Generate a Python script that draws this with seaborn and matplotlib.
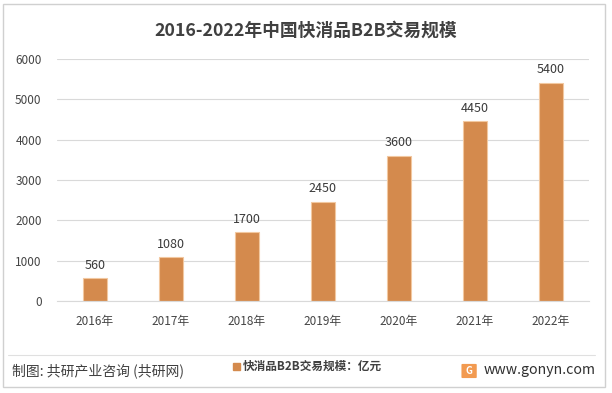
import matplotlib
matplotlib.use("Agg")
import matplotlib.pyplot as plt
import matplotlib.patches as mpatches
import seaborn as sns
import pandas as pd

years = ["2016年", "2017年", "2018年", "2019年", "2020年", "2021年", "2022年"]
scale = [560, 1080, 1700, 2450, 3600, 4450, 5400]
series_name = "快消品B2B交易规模：亿元"

df = pd.DataFrame({"year": years, "scale": scale})

sns.set_style("white")
plt.rcParams["font.family"] = ["Noto Sans CJK SC", "DejaVu Sans"]

bar_color = "#D48A4D"

fig = plt.figure(figsize=(6.12, 3.93), dpi=100)
ax = fig.add_axes([0.093, 0.234, 0.869, 0.616])

sns.barplot(data=df, x="year", y="scale", color=bar_color, width=0.32,
            edgecolor="#F2C8A0", linewidth=0.8, saturation=1, ax=ax)

# data labels
for i, v in enumerate(scale):
    ax.text(i, v + 170, str(v), ha="center", va="bottom", fontsize=9,
            color="#3A3A3A")

ax.set_ylim(0, 6000)
ax.set_xlim(-0.5, 6.5)
ax.set_yticks(range(0, 6001, 1000))
ax.yaxis.grid(True, color="#D9D9D9", linewidth=0.8)
ax.set_axisbelow(True)
for s in ["top", "right", "left"]:
    ax.spines[s].set_visible(False)
ax.spines["bottom"].set_color("#D9D9D9")
ax.tick_params(axis="x", length=0, labelsize=8.5, colors="#454545", pad=10)
ax.tick_params(axis="y", length=0, labelsize=8.5, colors="#454545", pad=11)
ax.set_xlabel("")
ax.set_ylabel("")

fig.text(0.5, 0.921, "2016-2022年中国快消品B2B交易规模", ha="center", va="center",
         fontsize=12.8, fontweight="bold", color="#404040")

# outer frame and footer separator
fig.patches.append(mpatches.Rectangle((0.005, 0.015), 0.984, 0.975,
                                      transform=fig.transFigure, fill=False,
                                      edgecolor="#D0D0D0", linewidth=1))
fig.lines.append(plt.Line2D([0.013, 0.972], [0.096, 0.096],
                            transform=fig.transFigure, color="#E0E0E0",
                            linewidth=0.8))

fig.text(0.019, 0.056, "制图: 共研产业咨询 (共研网)", ha="left", va="center",
         fontsize=10, color="#404040")

handle = mpatches.Patch(color=bar_color, label=series_name)
fig.legend(handles=[handle], loc="center left", bbox_to_anchor=(0.381, 0.067),
           frameon=False, handlelength=0.55, handleheight=0.55,
           handletextpad=0.3, borderpad=0, borderaxespad=0,
           prop={"weight": "bold", "size": 8.4}, labelcolor="#404040")

# logo
fig.patches.append(mpatches.FancyBboxPatch((0.756, 0.04), 0.021, 0.032,
                                           boxstyle="round,pad=0.002",
                                           transform=fig.transFigure,
                                           facecolor="#F29A50", edgecolor="none"))
fig.text(0.7665, 0.056, "G", ha="center", va="center", fontsize=7,
         fontweight="bold", color="white")
fig.text(0.973, 0.059, "www.gonyn.com", ha="right", va="center",
         fontsize=10.2, color="#303030")

fig.savefig("out.png", dpi=100)
